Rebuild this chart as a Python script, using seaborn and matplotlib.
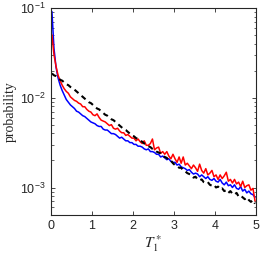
import numpy as np
import pandas as pd
import matplotlib
matplotlib.use("Agg")
import matplotlib.pyplot as plt
import seaborn as sns

# -----------------------------
# Dados, probabilidade em log10
# -----------------------------
t_star = [0.025 + 0.05 * k for k in range(100)]

blue_log10 = [
    -1.04, -1.45, -1.66, -1.78, -1.86, -1.92, -1.97, -2.02, -2.05, -2.08,
    -2.10, -2.12, -2.15, -2.16, -2.18, -2.20, -2.21, -2.23, -2.25, -2.27,
    -2.28, -2.29, -2.31, -2.32, -2.32, -2.35, -2.36, -2.36, -2.38, -2.40,
    -2.40, -2.41, -2.43, -2.45, -2.44, -2.46, -2.48, -2.48, -2.50, -2.50,
    -2.52, -2.52, -2.54, -2.54, -2.55, -2.57, -2.58, -2.57, -2.60, -2.60,
    -2.61, -2.63, -2.63, -2.66, -2.65, -2.67, -2.69, -2.68, -2.71, -2.72,
    -2.72, -2.75, -2.74, -2.77, -2.78, -2.79, -2.81, -2.80, -2.83, -2.85,
    -2.84, -2.85, -2.88, -2.86, -2.88, -2.90, -2.88, -2.91, -2.92, -2.90,
    -2.93, -2.94, -2.91, -2.95, -2.97, -2.94, -2.98, -2.97, -3.00, -2.97,
    -3.01, -3.02, -2.99, -3.04, -3.02, -3.06, -3.04, -3.07, -3.08, -3.11,
]

red_log10 = [
    -1.30, -1.52, -1.65, -1.75, -1.81, -1.86, -1.90, -1.93, -1.95, -1.99,
    -2.01, -2.03, -2.04, -2.06, -2.07, -2.10, -2.10, -2.13, -2.15, -2.16,
    -2.19, -2.20, -2.18, -2.22, -2.25, -2.26, -2.27, -2.29, -2.31, -2.30,
    -2.34, -2.35, -2.34, -2.37, -2.39, -2.39, -2.42, -2.41, -2.43, -2.45,
    -2.45, -2.48, -2.46, -2.49, -2.51, -2.48, -2.53, -2.53, -2.51, -2.46,
    -2.58, -2.56, -2.55, -2.62, -2.60, -2.63, -2.60, -2.65, -2.68, -2.63,
    -2.68, -2.72, -2.66, -2.73, -2.66, -2.75, -2.73, -2.76, -2.79, -2.75,
    -2.78, -2.82, -2.74, -2.81, -2.84, -2.79, -2.86, -2.84, -2.81, -2.88,
    -2.86, -2.91, -2.86, -2.90, -2.87, -2.83, -2.93, -2.91, -2.95, -2.91,
    -2.96, -2.94, -2.99, -2.93, -3.00, -2.98, -2.97, -3.03, -3.01, -3.15,
]

black_log10 = [
    -1.73, -1.75, -1.76, -1.78, -1.80, -1.81, -1.83, -1.85, -1.86, -1.88,
    -1.89, -1.91, -1.93, -1.95, -1.97, -1.99, -2.01, -2.03, -2.05, -2.06,
    -2.08, -2.10, -2.12, -2.13, -2.15, -2.17, -2.19, -2.20, -2.22, -2.24,
    -2.25, -2.27, -2.29, -2.31, -2.33, -2.35, -2.36, -2.38, -2.40, -2.42,
    -2.43, -2.45, -2.46, -2.48, -2.49, -2.51, -2.52, -2.54, -2.55, -2.57,
    -2.58, -2.60, -2.61, -2.62, -2.65, -2.66, -2.67, -2.70, -2.70, -2.73,
    -2.75, -2.76, -2.78, -2.78, -2.81, -2.82, -2.84, -2.85, -2.86, -2.89,
    -2.88, -2.91, -2.92, -2.91, -2.94, -2.95, -2.94, -2.97, -2.98, -2.97,
    -3.00, -2.99, -3.02, -3.01, -3.04, -3.03, -3.06, -3.04, -3.07, -3.08,
    -3.06, -3.10, -3.09, -3.11, -3.13, -3.11, -3.14, -3.16, -3.14, -3.18,
]

x_ticks = [0, 1, 2, 3, 4, 5]

# -----------------------------
# Estilo
# -----------------------------
sns.set_style("ticks")
plt.rcParams["font.family"] = ["Liberation Sans", "DejaVu Sans"]
plt.rcParams["mathtext.fontset"] = "stix"
plt.rcParams["xtick.direction"] = "in"
plt.rcParams["ytick.direction"] = "in"

fig = plt.figure(figsize=(2.61, 2.56), dpi=100)
ax = fig.add_axes([0.195, 0.162, 0.786, 0.807])

df = pd.DataFrame({"t": t_star,
                   "blue": np.power(10.0, blue_log10),
                   "red": np.power(10.0, red_log10),
                   "black": np.power(10.0, black_log10)})

sns.lineplot(data=df, x="t", y="blue", color="#0000ff", lw=1.1, ax=ax)
sns.lineplot(data=df, x="t", y="red", color="#ff0000", lw=1.1, ax=ax)
sns.lineplot(data=df, x="t", y="black", color="black", lw=1.5,
             linestyle=(0, (2.5, 2.0)), ax=ax)

ax.set_yscale("log")
ax.set_xlim(0, 5)
ax.set_ylim(5e-4, 1e-1)
ax.set_xticks(x_ticks)
ax.set_xticklabels([str(v) for v in x_ticks])

for side in ["top", "right", "left", "bottom"]:
    ax.spines[side].set_visible(True)
    ax.spines[side].set_linewidth(0.8)
    ax.spines[side].set_color("#262626")
ax.tick_params(which="both", top=True, right=True, labelsize=9,
               colors="#262626", pad=4)
ax.tick_params(which="major", length=3, width=0.6)
ax.tick_params(which="minor", length=1.8, width=0.5)
ax.tick_params(axis="x", which="minor", bottom=False, top=False)

ax.set_ylabel("probability", family=["Liberation Serif"], fontsize=10,
              labelpad=2)
ax.set_xlabel(r"$T_1^*$", fontsize=11, labelpad=1)

fig.savefig("out.png", dpi=100)
